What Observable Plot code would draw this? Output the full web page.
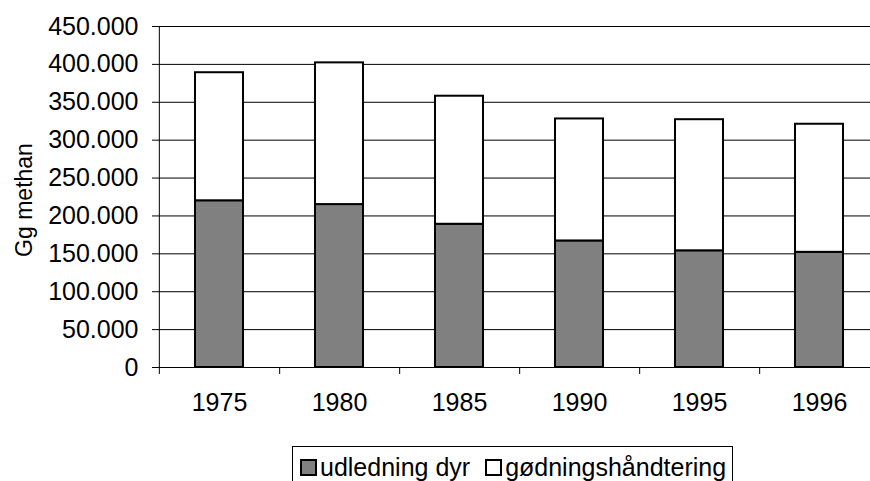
<!DOCTYPE html>
<html>
<head>
<meta charset="utf-8">
<script src="https://cdn.jsdelivr.net/npm/d3@7"></script>
<script src="https://cdn.jsdelivr.net/npm/@observablehq/plot@0.6"></script>
<style>
  html, body { margin: 0; padding: 0; background: #fff; overflow: hidden; width: 870px; height: 481px; }
  #wrap { position: relative; width: 870px; height: 481px; overflow: hidden; font-family: "Liberation Sans", Arial, sans-serif; }
  #chart { position: absolute; left: 0; top: 0; width: 881px; }
  #chart svg { max-width: none !important; }
  #legend { position: absolute; left: 292px; top: 446px; width: 441px; height: 42px; border: 1px solid #000; box-sizing: border-box;
            font-size: 25px; line-height: 34px; padding-top: 3px; color: #000; white-space: nowrap; padding-left: 7px; }
  .sw { display: inline-block; width: 13px; height: 13px; border: 2px solid #000; vertical-align: baseline; margin-right: 3px; }
</style>
</head>
<body>
<div id="wrap">
  <div id="chart"></div>
  <div id="legend"></div>
</div>
<script>
const years = ["1975", "1980", "1985", "1990", "1995", "1996"];
const udledningDyr = [220000, 215000, 189000, 167000, 154000, 152000];
const goedning = [169000, 187000, 169000, 161000, 173000, 169000];
const seriesNames = ["udledning dyr", "gødningshåndtering"];
const seriesColors = ["#808080", "#ffffff"];
const yTicks = [0, 50000, 100000, 150000, 200000, 250000, 300000, 350000, 400000, 450000];
const yTitle = "Gg methan";

const data = [];
years.forEach((yr, i) => {
  data.push({year: yr, series: seriesNames[0], value: udledningDyr[i]});
  data.push({year: yr, series: seriesNames[1], value: goedning[i]});
});

const W = 881, H = 420, ML = 158, MR = 1, MT = 26, MB = 53;
const step = (W - ML - MR) / years.length;
const fmt = d3.formatLocale({decimal: ",", thousands: ".", grouping: [3], currency: ["", " kr"]}).format(",d");
const font = "Liberation Sans, Arial, sans-serif";

const chart = Plot.plot({
  width: W, height: H,
  marginLeft: ML, marginRight: MR, marginTop: MT, marginBottom: MB,
  style: {fontFamily: font, background: "#fff", color: "#000", overflow: "visible", maxWidth: "none"},
  x: {type: "band", domain: years, paddingInner: 0.6, paddingOuter: 0.3, label: null},
  y: {domain: [0, 450000], label: null},
  color: {domain: seriesNames, range: seriesColors},
  marks: [
    Plot.gridY(yTicks, {stroke: "#000", strokeOpacity: 1, strokeWidth: 1}),
    Plot.barY(data, Plot.stackY({order: seriesNames}, {x: "year", y: "value", fill: "series", stroke: "#000", strokeWidth: 2})),
    Plot.ruleY([0], {stroke: "#000", strokeWidth: 1}),
    Plot.ruleX([years[0]], {dx: -step / 2, y1: 0, y2: 450000, stroke: "#000", strokeWidth: 1}),
    Plot.axisY({ticks: yTicks, tickFormat: fmt, tickSize: 6, tickPadding: 14, fontSize: 25, label: null, stroke: "#000"}),
    Plot.axisX({tickSize: 0, tickPadding: 26, fontSize: 25, label: null}),
    Plot.axisX({tickSize: 7, text: null, dx: step / 2, label: null, stroke: "#000"}),
    Plot.axisX({ticks: [years[0]], tickSize: 7, text: null, dx: -step / 2, label: null, stroke: "#000"}),
    Plot.text([yTitle], {frameAnchor: "left", textAnchor: "middle", rotate: -90, dx: -134, dy: 3, fontSize: 23, fill: "#000"})
  ]
});
document.getElementById("chart").appendChild(chart);

const legend = document.getElementById("legend");
seriesNames.forEach((name, i) => {
  const sw = document.createElement("span");
  sw.className = "sw";
  sw.style.background = seriesColors[i];
  legend.appendChild(sw);
  legend.appendChild(document.createTextNode(name));
  if (i < seriesNames.length - 1) {
    const sp = document.createElement("span");
    sp.style.display = "inline-block";
    sp.style.width = "15px";
    legend.appendChild(sp);
  }
});
</script>
</body>
</html>
